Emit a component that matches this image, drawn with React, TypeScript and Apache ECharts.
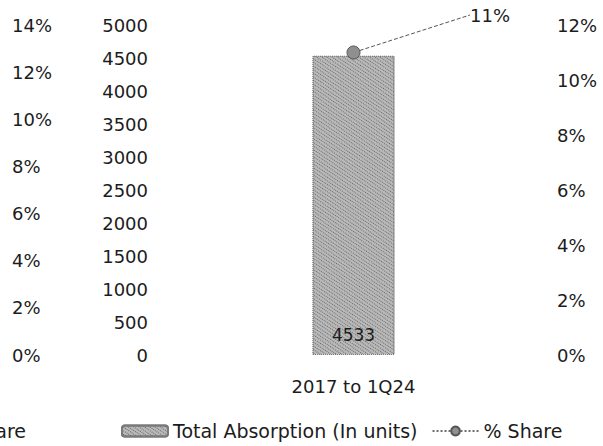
import React, { useEffect, useRef } from "react";
import * as echarts from "echarts";

const categories = ["2017 to 1Q24"];
const absorptionValues = [4533];
const shareValues = [11];
const leftPctTicks = { min: 0, max: 14, interval: 2 };
const unitTicks = { min: 0, max: 5000, interval: 500 };
const rightPctTicks = { min: 0, max: 12, interval: 2 };
const seriesNames = ["Total Absorption (In units)", "% Share"];

const FONT = "DejaVu Sans";
const TXT = "#1c1c1c";

export default function App() {
  const ref = useRef<HTMLDivElement>(null);
  useEffect(() => {
    if (!ref.current) return;
    const chart = echarts.init(ref.current, undefined, { renderer: "svg" });
    const lbl = { color: TXT, fontFamily: FONT, fontSize: 18 };
    chart.setOption({
      animation: false,
      backgroundColor: "#ffffff",
      textStyle: { fontFamily: FONT, color: TXT },
      grid: { left: 158, right: 54, top: 25, bottom: 91 },
      legend: {
        top: 420,
        left: 121,
        itemWidth: 46,
        itemHeight: 11,
        itemGap: 14,
        padding: 0,
        textStyle: { fontFamily: FONT, fontSize: 19, lineHeight: 22, color: TXT },
        data: seriesNames,
      },
      graphic: [
        {
          type: "text",
          x: 26,
          y: 431,
          style: {
            text: "% Share",
            fontFamily: FONT,
            fontSize: 19,
            fill: TXT,
            align: "right",
            verticalAlign: "middle",
          },
        },
      ],
      xAxis: {
        type: "category",
        data: categories,
        axisLine: { show: false },
        axisTick: { show: false },
        axisLabel: { ...lbl, margin: 22 },
      },
      yAxis: [
        {
          type: "value",
          position: "left",
          ...unitTicks,
          axisLine: { show: false },
          axisTick: { show: false },
          splitLine: { show: false },
          axisLabel: { ...lbl, margin: 10, formatter: (v: number) => String(v) },
        },
        {
          type: "value",
          position: "left",
          offset: 140,
          ...leftPctTicks,
          axisLine: { show: false },
          axisTick: { show: false },
          splitLine: { show: false },
          axisLabel: { ...lbl, margin: 6, align: "left", formatter: "{value}%" },
        },
        {
          type: "value",
          position: "right",
          ...rightPctTicks,
          axisLine: { show: false },
          axisTick: { show: false },
          splitLine: { show: false },
          axisLabel: { ...lbl, margin: 8, formatter: "{value}%" },
        },
      ],
      series: [
        {
          name: seriesNames[0],
          type: "bar",
          yAxisIndex: 0,
          data: absorptionValues,
          barWidth: 82,
          itemStyle: {
            color: "#b9b9b9",
            borderColor: "#7a7a7a",
            borderWidth: 1,
            borderType: "dotted",
            decal: {
              symbol: "rect",
              symbolSize: 1,
              color: "rgba(40,40,40,0.55)",
              dashArrayX: [1, 1],
              dashArrayY: [1, 2],
              rotation: 0.6,
            },
          },
          label: {
            show: true,
            position: "insideBottom",
            distance: 12,
            ...lbl,
            fontSize: 17,
          },
        },
        {
          name: seriesNames[1],
          type: "line",
          yAxisIndex: 2,
          data: shareValues,
          symbol: "circle",
          symbolSize: 13,
          lineStyle: { color: "#6e6e6e", width: 3, type: "dotted" },
          itemStyle: { color: "#8f8f8f", borderColor: "#555555", borderWidth: 1 },
          label: {
            show: true,
            formatter: "{c}%",
            ...lbl,
          },
          labelLayout: { x: 490, y: 15, align: "center", verticalAlign: "middle" },
          labelLine: {
            show: true,
            lineStyle: { color: "#555", width: 1, type: "dashed" },
          },
        },
      ],
    });
    return () => chart.dispose();
  }, []);
  return (
    <div
      ref={ref}
      style={{ position: "fixed", left: 0, top: 0, width: 603, height: 446 }}
    />
  );
}
